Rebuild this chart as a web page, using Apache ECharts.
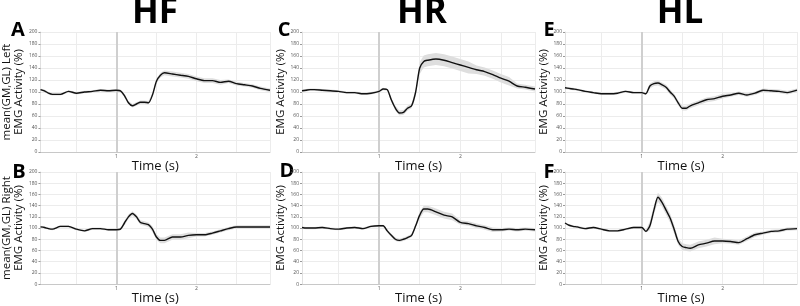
<!DOCTYPE html>
<html>
<head>
<meta charset="utf-8">
<script src="https://cdn.jsdelivr.net/npm/echarts@6/dist/echarts.min.js"></script>
<style>
  html, body { margin: 0; padding: 0; background: #fff; }
  #main { width: 800px; height: 306px; }
</style>
</head>
<body>
<div id="main"></div>
<script>
// time samples (s), shared by all six panels
var times = [0.05, 0.1, 0.15, 0.2, 0.3, 0.4, 0.5, 0.6, 0.7, 0.8, 0.9, 1.0, 1.05, 1.1, 1.15, 1.2, 1.25, 1.3, 1.35, 1.4,
  1.45, 1.5, 1.55, 1.6, 1.7, 1.8, 1.9, 2.0, 2.1, 2.2, 2.3, 2.4, 2.5, 2.6, 2.7, 2.8, 2.92]

// mean EMG activity (%)
var hfLeft  = [104, 102, 98, 96, 96, 101, 98, 100, 101, 103, 102, 103, 102, 94, 82, 77, 80, 83, 83, 82,
  95, 118, 128, 132, 130, 128, 126, 122, 119, 119, 116, 118, 114, 112, 110, 106, 103]
var hfRight = [102, 101, 99, 98, 103, 103, 98, 95, 99, 99, 97, 97, 98, 109, 120, 126, 120, 110, 108, 106,
  98, 84, 78, 78, 84, 84, 87, 88, 88, 91, 95, 99, 102, 102, 102, 102, 102]
var hrLeft  = [102, 103, 104, 104, 103, 102, 101, 99, 99, 97, 98, 101, 105, 104, 87, 73, 65, 66, 73, 77,
  100, 140, 151, 153, 155, 153, 149, 145, 141, 137, 134, 129, 123, 118, 110, 108, 105]
var hrRight = [101, 100, 100, 100, 101, 99, 98, 100, 101, 99, 103, 104, 104, 95, 87, 80, 78, 80, 83, 87,
  104, 123, 134, 134, 129, 123, 120, 110, 108, 104, 101, 97, 97, 98, 97, 98, 97]
var hlLeft  = [107, 106, 105, 104, 101, 99, 97, 97, 98, 101, 99, 99, 97, 110, 114, 115, 112, 108, 100, 93,
  82, 73, 73, 77, 82, 87, 89, 93, 95, 98, 95, 98, 103, 102, 101, 99, 103]
var hlRight = [109, 105, 103, 102, 99, 101, 98, 95, 95, 98, 101, 101, 94, 104, 132, 155, 146, 132, 118, 98,
  76, 67, 65, 64, 70, 73, 77, 77, 76, 74, 81, 88, 91, 94, 95, 98, 99]

// half width of the shaded error band (%)
var hfLeftErr  = [2, 2, 2, 2, 2, 2, 2, 2, 2, 2, 2, 2, 2, 3, 3, 3, 3, 3, 3, 3, 3, 4, 4, 4, 4, 4, 4, 4, 4, 4, 4, 3, 3, 3, 3, 3, 3]
var hfRightErr = [2, 2, 2, 2, 2, 2, 2, 2, 2, 2, 2, 2, 2, 4, 4, 4, 4, 4, 4, 4, 5, 5, 5, 5, 5, 5, 5, 3, 3, 3, 3, 3, 3, 3, 3, 3, 3]
var hrLeftErr  = [2, 2, 2, 2, 2, 2, 2, 2, 2, 2, 2, 2, 2, 2, 4, 4, 4, 4, 4, 4, 4, 10, 10, 10, 10, 10, 10, 10, 10, 7, 7, 7, 7, 7, 4, 4, 4]
var hrRightErr = [2, 2, 2, 2, 2, 2, 2, 2, 2, 2, 2, 2, 2, 3, 3, 3, 3, 3, 3, 3, 3, 6, 6, 6, 6, 6, 6, 4, 4, 4, 4, 4, 3, 3, 3, 3, 3]
var hlLeftErr  = [2, 2, 2, 2, 2, 2, 2, 2, 2, 2, 2, 2, 2, 4, 4, 4, 4, 4, 4, 4, 4, 4, 4, 4, 4, 4, 4, 4, 3, 3, 3, 3, 3, 3, 3, 3, 3]
var hlRightErr = [2, 2, 2, 2, 2, 2, 2, 2, 2, 2, 2, 2, 2, 8, 8, 8, 8, 8, 8, 8, 6, 6, 6, 6, 6, 6, 6, 4, 4, 4, 4, 4, 3, 3, 3, 3, 3]

var colTitles = ['HF', 'HR', 'HL']
var panelLetters = ['A', 'B', 'C', 'D', 'E', 'F']
var yTicks = [0, 20, 40, 60, 80, 100, 120, 140, 160, 180, 200]

var FONT = '"Open Sans", "Noto Sans", sans-serif'

var panels = [
  { left: 37,  top: 32,  values: hfLeft,  err: hfLeftErr,  yName: 'mean(GM,GL) Left\nEMG Activity (%)', gap: 12 },
  { left: 37,  top: 172, values: hfRight, err: hfRightErr, yName: 'mean(GM,GL) Right\nEMG Activity (%)', gap: 12 },
  { left: 302, top: 32,  values: hrLeft,  err: hrLeftErr,  yName: 'EMG Activity (%)', gap: 8 },
  { left: 302, top: 172, values: hrRight, err: hrRightErr, yName: 'EMG Activity (%)', gap: 8 },
  { left: 565, top: 32,  values: hlLeft,  err: hlLeftErr,  yName: 'EMG Activity (%)', gap: 8 },
  { left: 565, top: 172, values: hlRight, err: hlRightErr, yName: 'EMG Activity (%)', gap: 8 }
]
var letterPos = [[18, 30], [19, 172], [284, 30], [287, 171], [549, 30], [549, 172]]
var titlePos = [[155, 13], [422, 13], [680, 13]]

var myChart = echarts.init(document.getElementById('main'))

var grid = [], xAxis = [], yAxis = [], series = [], graphic = []

panels.forEach(function (p, i) {
  grid.push({ left: p.left, top: p.top, width: 233, height: 120 })
  xAxis.push({
    type: 'value',
    gridIndex: i,
    min: 0.05,
    max: 2.92,
    minInterval: 0.5,
    maxInterval: 0.5,
    name: 'Time (s)',
    nameLocation: 'middle',
    nameGap: 1,
    nameTextStyle: { fontFamily: FONT, fontSize: 13, color: '#111' },
    axisLine: { lineStyle: { color: '#c8c8c8', width: 1 } },
    axisTick: { show: false },
    axisLabel: {
      fontSize: 5, color: '#555', margin: 2, fontFamily: FONT,
      formatter: function (v) { return Math.abs(v - Math.round(v)) < 1e-6 ? String(Math.round(v)) : '' }
    },
    splitLine: { lineStyle: { color: '#ececec', width: 1 } }
  })
  yAxis.push({
    type: 'value',
    gridIndex: i,
    min: 0,
    max: 200,
    interval: 20,
    name: p.yName,
    nameLocation: 'middle',
    nameGap: p.gap,
    nameTextStyle: { fontFamily: FONT, fontSize: 11.5, color: '#111', lineHeight: 12 },
    axisLine: { show: true, lineStyle: { color: '#e0e0e0' } },
    axisTick: { show: true, length: 2, lineStyle: { color: '#999' } },
    axisLabel: { fontSize: 5, color: '#555', margin: 3, fontFamily: FONT,
      customValues: yTicks },
    splitLine: { lineStyle: { color: '#ececec', width: 1 } }
  })

  // error band, with the stimulus line at t = 1 s behind the mean curve
  series.push({
    type: 'custom',
    xAxisIndex: i,
    yAxisIndex: i,
    clip: true,
    silent: true,
    z: 2,
    data: times.map(function (t, k) { return [t, p.values[k] - p.err[k], p.values[k] + p.err[k]] }),
    renderItem: function (params, api) {
      if (params.dataIndex !== 0) return
      var upper = [], lower = []
      for (var k = 0; k < times.length; k++) {
        upper.push(api.coord([times[k], p.values[k] + p.err[k]]))
        lower.push(api.coord([times[k], p.values[k] - p.err[k]]))
      }
      return {
        type: 'polygon',
        shape: { points: upper.concat(lower.reverse()), smooth: 0 },
        style: { fill: '#dedede', stroke: null }
      }
    },
    markLine: {
      silent: true,
      symbol: 'none',
      label: { show: false },
      lineStyle: { color: '#cfcfcf', width: 2, type: 'solid' },
      data: [{ xAxis: 1 }]
    }
  })

  // mean line
  series.push({
    type: 'line',
    xAxisIndex: i,
    yAxisIndex: i,
    showSymbol: false,
    smooth: 0.25,
    z: 5,
    data: times.map(function (t, k) { return [t, p.values[k]] }),
    lineStyle: { color: '#111', width: 1.4 }
  })
})

colTitles.forEach(function (t, i) {
  graphic.push({
    type: 'text', x: titlePos[i][0], y: titlePos[i][1],
    style: { text: t, fontFamily: FONT, fontSize: 35, fontWeight: 'bold', fill: '#000', align: 'center', verticalAlign: 'middle' }
  })
})
panelLetters.forEach(function (t, i) {
  graphic.push({
    type: 'text', x: letterPos[i][0], y: letterPos[i][1],
    style: { text: t, fontFamily: FONT, fontSize: 20, fontWeight: 'bold', fill: '#000', align: 'center', verticalAlign: 'middle' }
  })
})

myChart.setOption({
  animation: false,
  backgroundColor: '#fff',
  grid: grid,
  xAxis: xAxis,
  yAxis: yAxis,
  series: series,
  graphic: graphic
})
</script>
</body>
</html>
